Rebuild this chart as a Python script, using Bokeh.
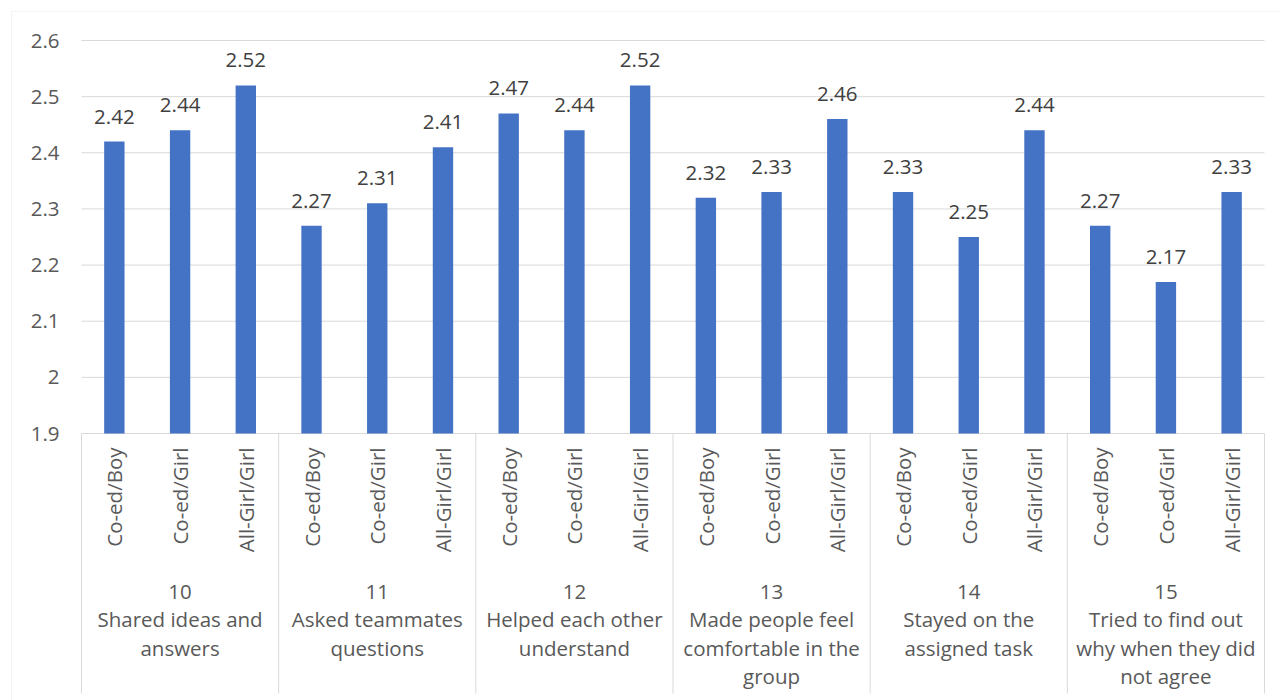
import math
from bokeh.plotting import figure
from bokeh.models import (ColumnDataSource, LabelSet, BoxAnnotation, FixedTicker,
                          CustomJSTickFormatter, Range1d, LinearAxis)
from bokeh.core.properties import value
from bokeh.embed import file_html
from bokeh.resources import INLINE

# ---------------- data ----------------
question_numbers = ["10", "11", "12", "13", "14", "15"]
question_lines = [
    ["Shared ideas and", "answers"],
    ["Asked teammates", "questions"],
    ["Helped each other", "understand"],
    ["Made people feel", "comfortable in the", "group"],
    ["Stayed on the", "assigned task"],
    ["Tried to find out", "why when they did", "not agree"],
]
groups = ["Co-ed/Boy", "Co-ed/Girl", "All-Girl/Girl"]
coed_boy = [2.42, 2.27, 2.47, 2.32, 2.33, 2.27]
coed_girl = [2.44, 2.31, 2.44, 2.33, 2.25, 2.17]
allgirl_girl = [2.52, 2.41, 2.52, 2.46, 2.44, 2.33]
y_ticks = [1.9, 2.0, 2.1, 2.2, 2.3, 2.4, 2.5, 2.6]

FONT = "Open Sans"
FS = "20.5px"
AXIS_COLOR = "#595959"
LABEL_COLOR = "#404040"
GRID = "#d9d9d9"
BAR = "#4472C4"

# ---------------- layout (pixels) ----------------
W, H = 1280, 700
FRAME_L, FRAME_R, FRAME_T, AXIS_Y = 81, 1264, 40, 433
BORDER = 11
SEP_BOTTOM = 693

series = [coed_boy, coed_girl, allgirl_girl]
n_q = len(question_numbers)
n_g = len(groups)
y0, y1 = y_ticks[0], y_ticks[-1]
n_x = n_q * n_g

px_per_y = (AXIS_Y - FRAME_T) / (y1 - y0)
px_per_x = (FRAME_R - FRAME_L) / n_x


def xd(px):
    return (px - FRAME_L) / px_per_x


def yd(py):
    return y0 + (AXIS_Y - py) / px_per_y


xs, tops, labels, subs = [], [], [], []
for qi in range(n_q):
    for gi in range(n_g):
        xs.append(qi * n_g + gi + 0.5)
        v = series[gi][qi]
        tops.append(v)
        labels.append(f"{v:.2f}")
        subs.append(groups[gi])

bars = ColumnDataSource(dict(x=xs, top=tops, label=labels, sub=subs, base=[y0] * len(xs)))

# the frame covers the whole canvas; the value axis sits at x = 0
p = figure(width=W, height=H, x_range=Range1d(xd(0), xd(W)), y_range=Range1d(yd(H), yd(0)),
           x_axis_location=None, y_axis_location=None,
           output_backend="svg", toolbar_location=None,
           min_border=0, min_border_left=0, min_border_right=0, min_border_top=0,
           min_border_bottom=0)
p.outline_line_color = None
p.xgrid.visible = False
p.ygrid.visible = False

ax = LinearAxis(fixed_location=0)
ax.ticker = FixedTicker(ticks=y_ticks)
ax.formatter = CustomJSTickFormatter(code="return (Math.round(tick*10)/10).toString();")
ax.axis_line_color = None
ax.major_tick_line_color = None
ax.minor_tick_line_color = None
ax.major_tick_out = 0
ax.major_tick_in = 0
ax.major_label_standoff = 22
ax.major_label_text_font = FONT
ax.major_label_text_font_size = FS
ax.major_label_text_color = AXIS_COLOR
p.add_layout(ax, "left")

# horizontal gridlines at the value ticks
p.segment(x0=[0] * len(y_ticks), y0=y_ticks, x1=[n_x] * len(y_ticks), y1=y_ticks,
          line_color=GRID, line_width=1)

# group separators (from the category axis line down)
sx = [qi * n_g for qi in range(n_q + 1)]
p.segment(x0=sx, y0=[y0] * len(sx), x1=sx, y1=[yd(SEP_BOTTOM)] * len(sx),
          line_color=GRID, line_width=1)

p.vbar(x="x", top="top", bottom=y0, width=0.31, source=bars, fill_color=BAR, line_color=None)

# value labels
p.add_layout(LabelSet(x="x", y="top", text="label", source=bars, y_offset=18,
                      text_align="center", text_baseline="alphabetic",
                      text_font=value(FONT), text_font_size=FS, text_color=LABEL_COLOR))

# sub-category labels (rotated)
p.add_layout(LabelSet(x="x", y="base", text="sub", source=bars, angle=math.pi / 2,
                      y_offset=-14, text_align="right", text_baseline="middle",
                      text_font=value(FONT), text_font_size=FS, text_color=AXIS_COLOR))

# group labels
gx, gy, gt, go = [], [], [], []
for qi in range(n_q):
    lines = [question_numbers[qi]] + question_lines[qi]
    for li, t in enumerate(lines):
        gx.append(qi * n_g + n_g / 2)
        gy.append(y0)
        gt.append(t)
        go.append(-(165 + 28.5 * li))
gsrc = ColumnDataSource(dict(x=gx, y=gy, text=gt, yo=go))
p.add_layout(LabelSet(x="x", y="y", text="text", y_offset="yo", source=gsrc,
                      text_align="center", text_baseline="alphabetic",
                      text_font=value(FONT), text_font_size=FS, text_color=AXIS_COLOR))

# outer chart border
p.add_layout(BoxAnnotation(left=xd(BORDER), right=xd(W + 10),
                           top=yd(BORDER), bottom=yd(H + 10),
                           fill_alpha=0, line_color=GRID, line_width=1))

open("out.html", "w").write(file_html(p, INLINE))
